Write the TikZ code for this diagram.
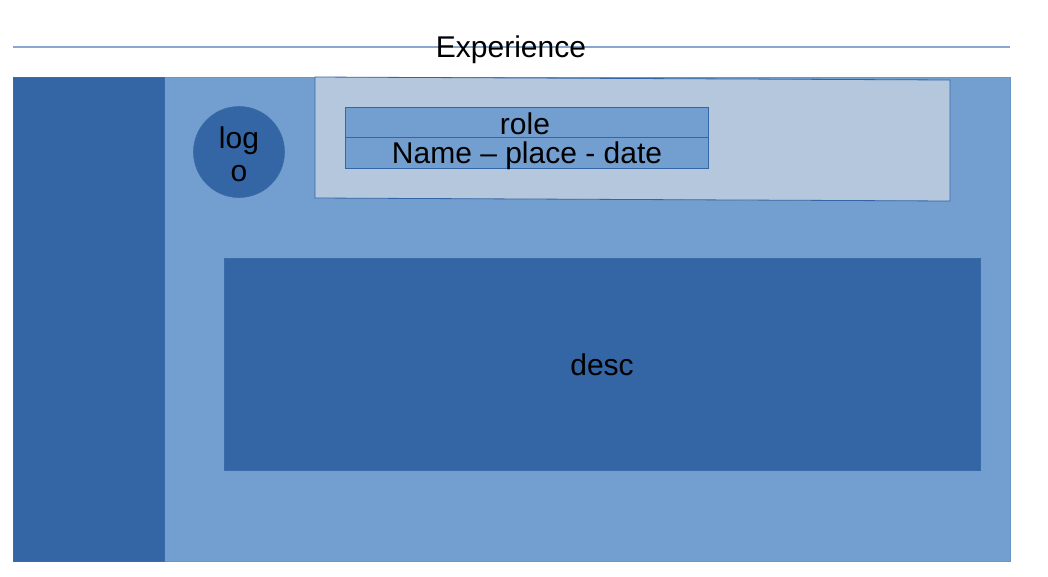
\documentclass[tikz,border=0pt]{standalone}
\usepackage{fontspec}
\setmainfont{Liberation Sans}
\definecolor{lightblue}{HTML}{729FCF}
\definecolor{darkblue}{HTML}{3465A4}
\definecolor{paleblue}{HTML}{B4C7DC}
\definecolor{rulecol}{HTML}{8AA8CC}
\tikzset{
  txt/.style={font=\fontsize{30}{34}\selectfont, text=black, inner sep=0pt, align=center},
  panel/.style={fill=lightblue, draw=lightblue!85!darkblue, line width=0.8pt},
  darkpanel/.style={fill=darkblue, draw=darkblue!90!lightblue, line width=0.8pt},
  rowbox/.style={fill=lightblue, draw=darkblue, line width=0.8pt},
}
\begin{document}
\begin{tikzpicture}[x=1pt,y=-1pt]
\useasboundingbox (0,0) rectangle (1048,576);
% title rule
\coordinate (ruleL) at (13,47);
\coordinate (ruleR) at (1010,47);
\draw[rulecol, line width=1.2pt] (ruleL) -- (ruleR);
\node[txt] (title) at (511,50) {Experience};
% main panel
\path[panel] (13,77) rectangle (1010,561);
\node[draw=none, minimum width=997pt, minimum height=484pt, inner sep=0pt] (main) at (511.5,319) {};
% sidebar
\path[darkpanel] (13,77) rectangle (164,561);
\node[inner sep=0pt, minimum width=151pt, minimum height=484pt] (sidebar) at (88.5,319) {};
% header card (slightly skewed)
\path[fill=paleblue, draw=darkblue, line width=0.8pt] (315,77) -- (950,80) -- (950,201) -- (315,198) -- cycle;
\coordinate (header) at (632,139);
% logo
\node[circle, fill=darkblue, draw=darkblue!90!lightblue, line width=0.6pt, minimum size=91pt, inner sep=0pt] (logo) at (239,152) {};
\node[txt] (logotext) at (239,154) {log\\[-1pt]o};
% role and name rows
\node[rowbox, minimum width=363pt, minimum height=30pt, inner sep=0pt] (role) at (526.5,122) {};
\node[txt] at (525,123.5) {role};
\node[rowbox, minimum width=363pt, minimum height=31pt, inner sep=0pt] (name) at (526.5,152.5) {};
\node[txt] at (527,156) {Name – place - date};
% description
\node[darkpanel, minimum width=756pt, minimum height=212pt, inner sep=0pt] (desc) at (602,364) {};
\node[txt] at (602,365) {desc};
\end{tikzpicture}
\end{document}
